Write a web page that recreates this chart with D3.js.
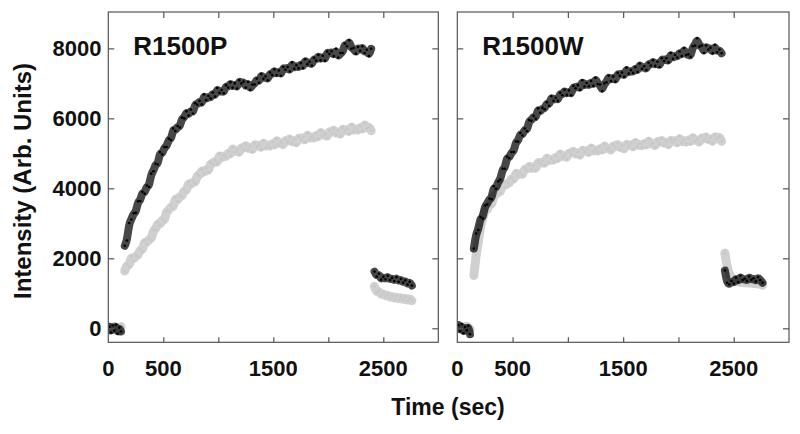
<!DOCTYPE html>
<html><head><meta charset="utf-8">
<script src="https://cdn.jsdelivr.net/npm/d3@7"></script>
<style>
body{margin:0;background:#fff}
text{font-family:"Liberation Sans",Arial,sans-serif;font-weight:bold;fill:#111}
</style>
</head><body>
<svg id="chart" width="800" height="434"></svg>
<script>
// ---------- data ----------
const panelTitles = ["R1500P", "R1500W"];
const xTicks = [500, 1000, 1500, 2000, 2500];
const xTickLabels = [0, 500, 1500, 2500];
const yTicks = [0, 2000, 4000, 6000, 8000];
const yTickLabels = [0, 2000, 4000, 6000, 8000];

const tInit = [10, 25, 40, 55, 70, 85, 100, 115];
const tMain = [150,170,190,210,230,250,270,290,310,330,350,370,390,410,430,450,470,490,510,530,550,570,590,610,630,650,670,690,710,730,750,770,790,810,830,850,870,890,910,930,950,970,990,1010,1030,1050,1070,1090,1110,1130,1150,1170,1190,1210,1230,1250,1270,1290,1310,1330,1350,1370,1390,1410,1430,1450,1470,1490,1510,1530,1550,1570,1590,1610,1630,1650,1670,1690,1710,1730,1750,1770,1790,1810,1830,1850,1870,1890,1910,1930,1950,1970,1990,2010,2030,2050,2070,2090,2110,2130,2150,2170,2190,2210,2230,2250,2270,2290,2310,2330,2350,2370,2390];
const tPost = [2420,2440,2460,2480,2500,2520,2540,2560,2580,2600,2620,2640,2660,2680,2700,2720,2740,2760];

// R1500P
const pBlackInit = [40,-120,80,-60,100,-150,20,-90];
const pGrayInit  = [-30,60,-100,110,-40,30,-130,50];
const pBlackMain = [2360,2510,3010,3110,3290,3300,3630,3640,3900,3850,4080,4040,4420,4490,4700,4680,5040,4970,5180,5180,5420,5380,5710,5640,5780,5740,6020,6000,6200,6080,6250,6140,6430,6390,6500,6400,6680,6520,6640,6570,6740,6620,6870,6730,6810,6720,6950,6880,7030,6880,7000,6850,7090,7000,7050,6880,7040,6820,6970,6970,7140,7020,7270,7130,7200,7090,7310,7240,7400,7240,7370,7220,7470,7390,7470,7340,7600,7420,7520,7430,7580,7440,7690,7550,7620,7510,7730,7650,7810,7660,7790,7650,7910,7840,7920,7780,7990,7740,7870,7870,8140,8060,8230,7990,8010,7850,8040,7930,8060,7870,7960,7780,7990];
const pGrayMain  = [1640,1830,1760,2070,1940,2090,2060,2270,2200,2510,2420,2560,2520,2820,2810,3030,2940,3130,3050,3370,3360,3500,3430,3750,3630,3790,3760,3970,3890,4180,4080,4200,4140,4400,4360,4540,4420,4580,4460,4740,4690,4800,4700,4990,4840,4950,4880,5050,4930,5180,5030,5100,4980,5200,5120,5270,5100,5210,5050,5290,5195,5260,5115,5360,5170,5260,5170,5320,5190,5420,5260,5320,5200,5410,5320,5460,5290,5400,5245,5485,5395,5470,5330,5585,5400,5490,5405,5560,5420,5655,5500,5560,5445,5660,5570,5710,5540,5650,5490,5730,5640,5710,5570,5820,5630,5720,5630,5780,5640,5870,5710,5770,5650];
const pBlackPost = [1620,1480,1560,1390,1470,1400,1500,1380,1440,1350,1460,1330,1410,1300,1370,1250,1330,1220];
const pGrayPost  = [1200,1020,1080,940,1010,900,980,860,940,830,920,820,900,800,880,780,860,790];

// R1500W
const wBlackInit = [90,-80,120,-140,40,-60,70,-170];
const wGrayInit  = [20,-50,60,-110,0,100,-70,-20];
const wBlackMain = [2280,2710,2810,3180,3140,3510,3540,3710,3690,4060,3990,4200,4250,4560,4560,4910,4860,5040,5040,5340,5340,5580,5510,5710,5630,5950,5930,6070,5990,6290,6160,6300,6260,6460,6360,6630,6500,6590,6500,6730,6660,6820,6670,6800,6660,6930,6860,6950,6820,7090,6910,7010,6920,7070,6930,7160,6980,6970,6780,7000,7030,7220,7070,7200,7050,7300,7220,7310,7190,7450,7280,7380,7300,7460,7330,7570,7420,7490,7380,7590,7510,7660,7500,7620,7470,7720,7640,7720,7600,7870,7700,7810,7740,7910,7780,8010,7810,7830,7760,8060,8080,8290,8050,8080,7870,8080,7970,8020,7860,8100,7890,7970,7860];
const wGrayMain  = [1510,2110,2430,2950,3110,3410,3360,3570,3490,3810,3800,3940,3860,4170,4030,4170,4120,4310,4210,4480,4360,4450,4360,4590,4520,4680,4530,4660,4520,4780,4700,4790,4660,4930,4750,4850,4770,4930,4800,5040,4890,4950,4840,5055,4970,5110,4940,5050,4890,5130,5040,5110,4970,5220,5030,5120,5030,5180,5040,5270,5110,5170,5050,5255,5160,5300,5125,5230,5070,5305,5210,5280,5135,5380,5190,5275,5180,5330,5185,5410,5245,5300,5175,5380,5285,5420,5245,5350,5185,5420,5325,5390,5245,5490,5295,5380,5285,5430,5285,5510,5345,5400,5275,5480,5385,5520,5345,5450,5285,5520,5425,5490,5345];
const wBlackPost = [1650,1300,1250,1350,1280,1450,1320,1500,1380,1420,1350,1480,1390,1430,1340,1460,1380,1300];
const wGrayPost  = [2150,1750,1550,1450,1380,1350,1330,1300,1340,1290,1320,1280,1310,1270,1300,1250,1280,1230];

const panels = [
  {title: panelTitles[0], gray: [[tInit,pGrayInit],[tMain,pGrayMain],[tPost,pGrayPost]],
   black: [[tInit,pBlackInit],[tMain,pBlackMain],[tPost,pBlackPost]]},
  {title: panelTitles[1], gray: [[tInit,wGrayInit],[tMain,wGrayMain],[tPost,wGrayPost]],
   black: [[tInit,wBlackInit],[tMain,wBlackMain],[tPost,wBlackPost]]}
];

// ---------- layout ----------
const svg = d3.select("#chart");
const panelX = [[108.3, 438.3], [457.3, 789]];
const yRange = [342.3, 12];
const y = d3.scaleLinear().domain([-400, 9040]).range(yRange);
const frameColor = "#555";
const grayColor = "#c8c8c8";

panels.forEach((p, i) => {
  const x = d3.scaleLinear().domain([0, 3000]).range(panelX[i]);
  const g = svg.append("g");
  const clipId = "clip" + i;
  svg.append("clipPath").attr("id", clipId).append("rect")
    .attr("x", panelX[i][0]).attr("y", yRange[1])
    .attr("width", panelX[i][1]-panelX[i][0]).attr("height", yRange[0]-yRange[1]);
  const plot = g.append("g").attr("clip-path", `url(#${clipId})`);

  const line = d3.line().x(d => x(d[0])).y(d => y(d[1])).curve(d3.curveBasis);
  const drawSeries = (segments, color, bandW, bandOp, r) => {
    segments.forEach(([ts, vs]) => {
      const pts = ts.map((t, k) => [t, vs[k]]);
      plot.append("path").datum(pts).attr("d", line)
        .attr("fill", "none").attr("stroke", color)
        .attr("stroke-width", bandW).attr("stroke-opacity", bandOp)
        .attr("stroke-linecap", "round");
      plot.selectAll(null).data(pts).enter().append("circle")
        .attr("cx", d => x(d[0])).attr("cy", d => y(d[1]))
        .attr("r", r).attr("fill", color);
    });
  };
  drawSeries(p.gray, grayColor, 9, 0.85, 1.5);
  drawSeries(p.black, "#000", 8, 0.72, 1.3);

  // frame
  g.append("rect").attr("x", panelX[i][0]).attr("y", yRange[1])
    .attr("width", panelX[i][1]-panelX[i][0]).attr("height", yRange[0]-yRange[1])
    .attr("fill", "none").attr("stroke", frameColor).attr("stroke-width", 1.2);

  // inward ticks
  const axB = d3.axisBottom(x).tickValues(xTicks).tickSize(-5).tickFormat("");
  const axT = d3.axisTop(x).tickValues(xTicks).tickSize(-6).tickFormat("");
  const axL = d3.axisLeft(y).tickValues(yTicks).tickSize(-6).tickFormat("");
  const axR = d3.axisRight(y).tickValues(yTicks).tickSize(-6).tickFormat("");
  [[axB, `translate(0,${yRange[0]})`], [axT, `translate(0,${yRange[1]})`],
   [axL, `translate(${panelX[i][0]},0)`], [axR, `translate(${panelX[i][1]},0)`]].forEach(([ax, tr]) => {
    const a = g.append("g").attr("transform", tr).call(ax);
    a.select(".domain").remove();
    a.selectAll("line").attr("stroke", frameColor).attr("stroke-width", 1.2);
  });

  // x tick labels
  g.selectAll(null).data(xTickLabels).enter().append("text")
    .attr("x", d => x(d)).attr("y", 376).attr("text-anchor", "middle")
    .attr("font-size", 22).text(d => d);

  // y tick labels only for first panel
  if (i === 0) {
    g.selectAll(null).data(yTickLabels).enter().append("text")
      .attr("x", 101.5).attr("y", d => y(d) + 8).attr("text-anchor", "end")
      .attr("font-size", 22).text(d => d);
  }

  // panel title
  g.append("text").attr("x", panelX[i][0] + 25).attr("y", 55)
    .attr("font-size", 26).text(p.title);
});

svg.append("text").attr("x", 448).attr("y", 415).attr("text-anchor", "middle")
  .attr("font-size", 23).text("Time (sec)");
svg.append("text").attr("transform", "translate(31,181) rotate(-90)")
  .attr("text-anchor", "middle").attr("font-size", 24).text("Intensity (Arb. Units)");
</script>
</body></html>
